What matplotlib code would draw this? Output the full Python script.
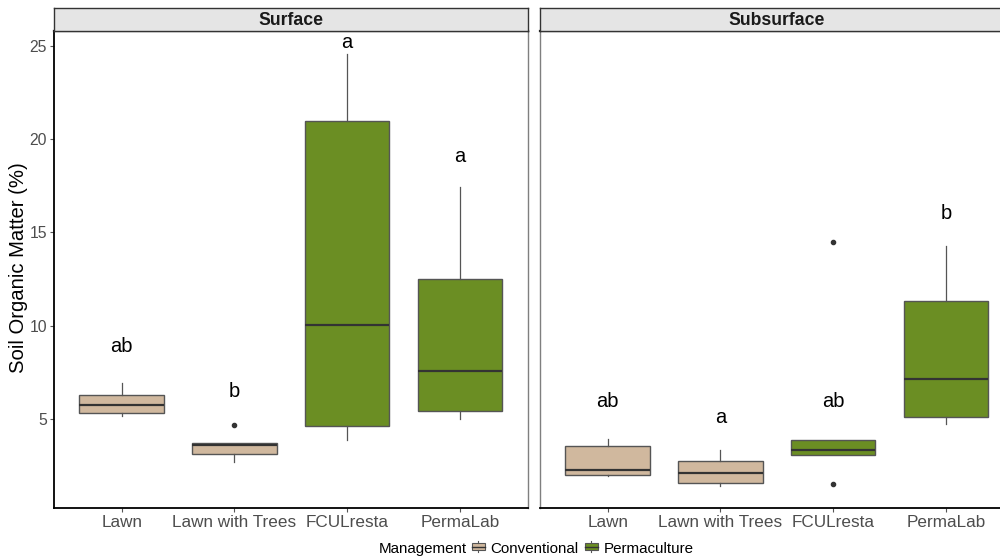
import matplotlib.pyplot as plt
from matplotlib.patches import Rectangle
from matplotlib.lines import Line2D
from matplotlib.legend_handler import HandlerBase

plt.rcParams['font.family'] = ['Liberation Sans', 'DejaVu Sans']

sites = ['Lawn', 'Lawn with Trees', 'FCULresta', 'PermaLab']
management = ['Conventional', 'Conventional', 'Permaculture', 'Permaculture']
fill = {'Conventional': '#D0B89E', 'Permaculture': '#6B8E23'}

# Surface layer
surf_whislo = [5.18, 2.68, 3.86, 5.00]
surf_q1 = [5.34, 3.11, 4.64, 5.43]
surf_med = [5.73, 3.59, 10.02, 7.56]
surf_q3 = [6.30, 3.71, 21.00, 12.52]
surf_whishi = [6.91, 3.71, 24.57, 17.42]
surf_fliers = [[], [4.69], [], []]
surf_letters = ['ab', 'b', 'a', 'a']
surf_letter_y = [8.9, 6.46, 25.2, 19.06]

# Subsurface layer
sub_whislo = [1.93, 1.41, 3.07, 4.72]
sub_q1 = [1.98, 1.55, 3.07, 5.11]
sub_med = [2.25, 2.09, 3.35, 7.14]
sub_q3 = [3.54, 2.75, 3.87, 11.34]
sub_whishi = [3.94, 3.35, 3.87, 14.28]
sub_fliers = [[], [], [1.51, 14.47], []]
sub_letters = ['ab', 'a', 'ab', 'b']
sub_letter_y = [5.93, 5.09, 5.93, 16.03]

y_ticks = [5, 10, 15, 20, 25]


def make_stats(lo, q1, med, q3, hi, fl):
    out = []
    for i in range(len(sites)):
        out.append({'whislo': lo[i], 'q1': q1[i], 'med': med[i], 'q3': q3[i],
                    'whishi': hi[i], 'fliers': fl[i]})
    return out


def draw_panel(ax, stats, letters, letter_y, first):
    pos = list(range(1, len(sites) + 1))
    bp = ax.bxp(stats, positions=pos, widths=0.75, patch_artist=True,
                showcaps=False,
                boxprops=dict(edgecolor='#555555', linewidth=1.0),
                medianprops=dict(color='#333333', linewidth=1.6),
                whiskerprops=dict(color='#555555', linewidth=0.9),
                flierprops=dict(marker='o', markersize=3, markerfacecolor='#333333',
                                markeredgecolor='#333333'))
    for patch, m in zip(bp['boxes'], management):
        patch.set_facecolor(fill[m])
    for x, t, y in zip(pos, letters, letter_y):
        ax.text(x, y, t, ha='center', va='center', fontsize=14.5, color='black')
    ax.set_xlim(0.4, 4.6)
    ax.set_ylim(0.23, 25.8)
    ax.set_xticks(pos)
    ax.set_xticklabels(sites, fontsize=12.3, color='#4D4D4D')
    ax.set_yticks(y_ticks)
    ax.tick_params(axis='x', length=3, color='#555555', pad=2)
    if first:
        ax.set_yticklabels([str(v) for v in y_ticks], fontsize=11.3, color='#4D4D4D')
        ax.tick_params(axis='y', length=3, color='#555555', pad=2)
        ax.spines['left'].set_color('black')
        ax.spines['left'].set_linewidth(1.3)
    else:
        ax.set_yticklabels([])
        ax.tick_params(axis='y', length=0)
        ax.spines['left'].set_color('#7F7F7F')
        ax.spines['left'].set_linewidth(1.0)
    ax.spines['bottom'].set_color('black')
    ax.spines['bottom'].set_linewidth(1.3)
    ax.spines['right'].set_color('#7F7F7F')
    ax.spines['right'].set_linewidth(1.0)
    ax.spines['top'].set_color('#222222')
    ax.spines['top'].set_linewidth(1.6)


class BoxKey(HandlerBase):
    def create_artists(self, legend, orig, xd, yd, w, h, fs, trans):
        c = orig.get_facecolor()
        r = Rectangle((xd + w * 0.1, yd + h * 0.2), w * 0.8, h * 0.6,
                      facecolor=c, edgecolor='#555555', lw=0.8, transform=trans)
        mid = yd + h * 0.5
        l1 = Line2D([xd + w * 0.1, xd + w * 0.9], [mid, mid], color='#333333',
                    lw=1.0, transform=trans)
        l2 = Line2D([xd + w * 0.5, xd + w * 0.5], [yd, yd + h * 0.2], color='#555555',
                    lw=0.8, transform=trans)
        l3 = Line2D([xd + w * 0.5, xd + w * 0.5], [yd + h * 0.8, yd + h], color='#555555',
                    lw=0.8, transform=trans)
        return [r, l1, l2, l3]


fig = plt.figure(figsize=(10, 5.59), dpi=100)
W, H = 1000, 559

panels = [
    (54, make_stats(surf_whislo, surf_q1, surf_med, surf_q3, surf_whishi, surf_fliers),
     surf_letters, surf_letter_y, 'Surface', True),
    (540, make_stats(sub_whislo, sub_q1, sub_med, sub_q3, sub_whishi, sub_fliers),
     sub_letters, sub_letter_y, 'Subsurface', False),
]
for left, stats, letters, ly, title, first in panels:
    ax = fig.add_axes([left / W, (H - 508) / H, 473.5 / W, (508 - 31) / H])
    draw_panel(ax, stats, letters, ly, first)
    sax = fig.add_axes([left / W, (H - 31) / H, 473.5 / W, 23 / H])
    sax.set_facecolor('#E5E5E5')
    sax.set_xticks([])
    sax.set_yticks([])
    for s in sax.spines.values():
        s.set_color('#333333')
        s.set_linewidth(1.0)
    sax.text(0.5, 0.47, title, ha='center', va='center', fontsize=12.7,
             fontweight='bold', color='#1A1A1A', transform=sax.transAxes)

fig.text(19 / W, 1 - 268 / H, 'Soil Organic Matter (%)', rotation=90, ha='center',
         va='center', fontsize=14.6, color='black')

fig.text(379 / W, 1 - 549 / H, 'Management', ha='left', va='center', fontsize=10.9)
handles = [Rectangle((0, 0), 1, 1, facecolor=fill['Conventional']),
           Rectangle((0, 0), 1, 1, facecolor=fill['Permaculture'])]
fig.legend(handles, ['Conventional', 'Permaculture'], ncol=2,
           handler_map={Rectangle: BoxKey()}, loc='center left',
           bbox_to_anchor=(470 / W, 1 - 549 / H), frameon=False, fontsize=10.9,
           handlelength=1.1, handleheight=0.8, handletextpad=0.25,
           columnspacing=0.3, borderaxespad=0, borderpad=0)

fig.savefig('out.png', dpi=100)
